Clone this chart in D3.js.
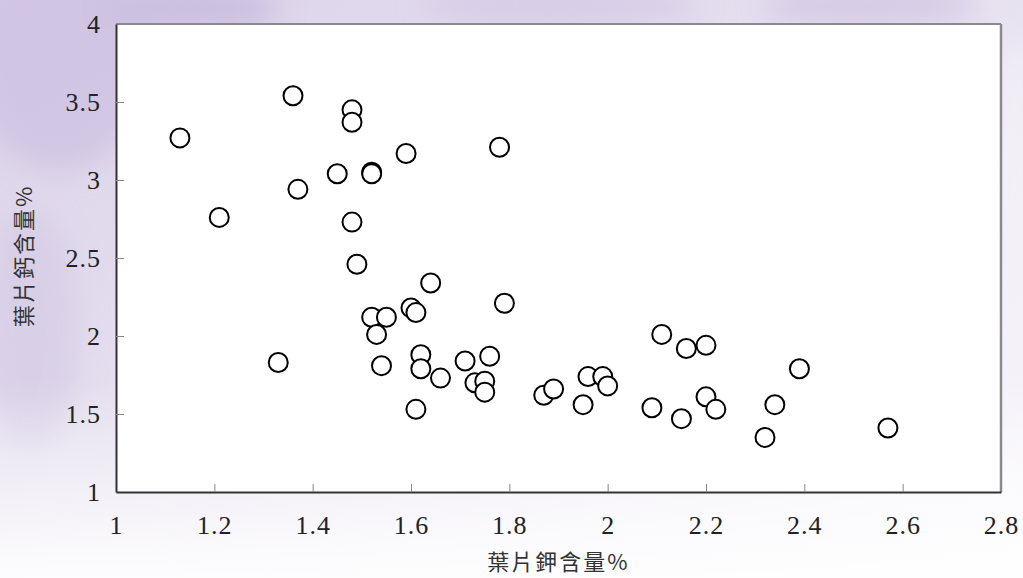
<!DOCTYPE html>
<html>
<head>
<meta charset="utf-8">
<script src="https://cdn.jsdelivr.net/npm/d3@7"></script>
<style>
  html, body { margin: 0; padding: 0; background: #fff; }
  #chart { width: 1023px; height: 578px; }
</style>
</head>
<body>
<div id="chart"></div>
<script>
// 葉片鉀含量 (x) vs 葉片鈣含量 (y)
const potassium = [1.13, 1.21, 1.33, 1.36, 1.37, 1.45, 1.48, 1.48, 1.48, 1.49,
    1.52, 1.52, 1.52, 1.53, 1.54, 1.55, 1.59, 1.60, 1.61, 1.61,
    1.62, 1.62, 1.64, 1.66, 1.71, 1.73, 1.75, 1.75, 1.76, 1.78,
    1.79, 1.87, 1.89, 1.95, 1.96, 1.99, 2.00, 2.09, 2.11, 2.15,
    2.16, 2.20, 2.20, 2.22, 2.32, 2.34, 2.39, 2.57];
const calcium = [3.27, 2.76, 1.83, 3.54, 2.94, 3.04, 3.45, 3.37, 2.73, 2.46,
    3.05, 3.04, 2.12, 2.01, 1.81, 2.12, 3.17, 2.18, 2.15, 1.53,
    1.88, 1.79, 2.34, 1.73, 1.84, 1.70, 1.71, 1.64, 1.87, 3.21,
    2.21, 1.62, 1.66, 1.56, 1.74, 1.74, 1.68, 1.54, 2.01, 1.47,
    1.92, 1.94, 1.61, 1.53, 1.35, 1.56, 1.79, 1.41];
const xTicks = [1, 1.2, 1.4, 1.6, 1.8, 2, 2.2, 2.4, 2.6, 2.8];
const yTicks = [1, 1.5, 2, 2.5, 3, 3.5, 4];
const xTitle = '葉片鉀含量%';
const yTitle = '葉片鈣含量%';

(function () {
    const width = 1023;
    const height = 578;
    const margin = { top: 24, right: 22, bottom: 86, left: 116 };

    const svg = d3.select('#chart')
        .append('svg')
        .attr('width', width)
        .attr('height', height);

    // washed-out lavender backdrop (stand-in for the photo behind the chart)
    const defs = svg.append('defs');
    const bg = defs.append('linearGradient')
        .attr('id', 'bg')
        .attr('x1', 0).attr('y1', 0).attr('x2', 1).attr('y2', 1);
    bg.append('stop').attr('offset', '0%').attr('stop-color', '#dbd2e9');
    bg.append('stop').attr('offset', '45%').attr('stop-color', '#e6e0ef');
    bg.append('stop').attr('offset', '100%').attr('stop-color', '#fbfafd');

    const fade = defs.append('linearGradient')
        .attr('id', 'fade')
        .attr('x1', 0).attr('y1', 0).attr('x2', 0).attr('y2', 1);
    fade.append('stop').attr('offset', '0%').attr('stop-color', '#fff').attr('stop-opacity', 0);
    fade.append('stop').attr('offset', '100%').attr('stop-color', '#fff').attr('stop-opacity', 0.9);

    defs.append('filter').attr('id', 'blur')
        .append('feGaussianBlur').attr('stdDeviation', 14);

    svg.append('rect')
        .attr('width', width).attr('height', height)
        .attr('fill', 'url(#bg)');

    const blobs = svg.append('g').attr('filter', 'url(#blur)').attr('opacity', 0.6);
    blobs.append('ellipse').attr('cx', 60).attr('cy', 60).attr('rx', 90).attr('ry', 110).attr('fill', '#c9bcdf');
    blobs.append('ellipse').attr('cx', 190).attr('cy', 8).attr('rx', 90).attr('ry', 25).attr('fill', '#bfb0d9');
    blobs.append('ellipse').attr('cx', 560).attr('cy', 6).attr('rx', 140).attr('ry', 20).attr('fill', '#cfc3e3');
    blobs.append('ellipse').attr('cx', 870).attr('cy', 6).attr('rx', 110).attr('ry', 20).attr('fill', '#c9bcdf');
    blobs.append('ellipse').attr('cx', 30).attr('cy', 330).attr('rx', 50).attr('ry', 120).attr('fill', '#d3c9e4');
    blobs.append('ellipse').attr('cx', 1015).attr('cy', 200).attr('rx', 25).attr('ry', 160).attr('fill', '#f6f4f9');

    svg.append('rect')
        .attr('y', 380).attr('width', width).attr('height', height - 380)
        .attr('fill', 'url(#fade)');

    const w = width - margin.left - margin.right;
    const h = height - margin.top - margin.bottom;

    const g = svg.append('g')
        .attr('transform', `translate(${margin.left},${margin.top})`);

    const x = d3.scaleLinear().domain([1, 2.8]).range([0, w]);
    const y = d3.scaleLinear().domain([1, 4]).range([h, 0]);

    // white plot area
    g.append('rect')
        .attr('width', w).attr('height', h)
        .attr('fill', '#fff');

    // frame: gray top/right, dark left/bottom
    g.append('line').attr('x1', 0).attr('x2', w).attr('y1', 0).attr('y2', 0)
        .attr('stroke', '#8a8a8a').attr('stroke-width', 2);
    g.append('line').attr('x1', w).attr('x2', w).attr('y1', 0).attr('y2', h)
        .attr('stroke', '#8a8a8a').attr('stroke-width', 2.5);

    const xAxis = g.append('g')
        .attr('transform', `translate(0,${h})`)
        .call(d3.axisBottom(x).tickValues(xTicks).tickSize(-8).tickSizeOuter(0).tickPadding(24)
            .tickFormat(d3.format('')));
    const yAxis = g.append('g')
        .call(d3.axisLeft(y).tickValues(yTicks).tickSize(-8).tickSizeOuter(0).tickPadding(15)
            .tickFormat(d3.format('')));

    [xAxis, yAxis].forEach(a => {
        a.select('.domain').attr('stroke', '#333').attr('stroke-width', 2);
        a.selectAll('.tick line').attr('stroke', '#888').attr('stroke-width', 1);
        a.selectAll('.tick text')
            .attr('fill', '#222')
            .style('font-family', '"Liberation Serif", "Times New Roman", serif')
            .style('font-size', '26px')
            .style('letter-spacing', '1px');
    });
    // hide tick marks at the frame corners
    xAxis.selectAll('.tick line').filter(d => d === 1 || d === 2.8).remove();
    yAxis.selectAll('.tick line').filter(d => d === 1 || d === 4).remove();

    const points = potassium.map((k, i) => ({ k: k, ca: calcium[i] }));

    g.selectAll('circle.pt')
        .data(points)
        .enter()
        .append('circle')
        .attr('class', 'pt')
        .attr('cx', d => x(d.k))
        .attr('cy', d => y(d.ca))
        .attr('r', 9.5)
        .attr('fill', '#fff')
        .attr('stroke', '#000')
        .attr('stroke-width', 2);

    svg.append('text')
        .attr('x', margin.left + x(1.9))
        .attr('y', 570)
        .attr('text-anchor', 'middle')
        .attr('fill', '#333')
        .style('font-family', '"Noto Sans CJK TC", "Noto Sans", sans-serif')
        .style('font-size', '22px')
        .style('letter-spacing', '2px')
        .text(xTitle);

    svg.append('text')
        .attr('transform', `translate(32,256) rotate(-90)`)
        .attr('text-anchor', 'middle')
        .attr('fill', '#333')
        .style('font-family', '"Noto Sans CJK TC", "Noto Sans", sans-serif')
        .style('font-size', '22px')
        .style('letter-spacing', '2px')
        .text(yTitle);
})();
</script>
</body>
</html>
